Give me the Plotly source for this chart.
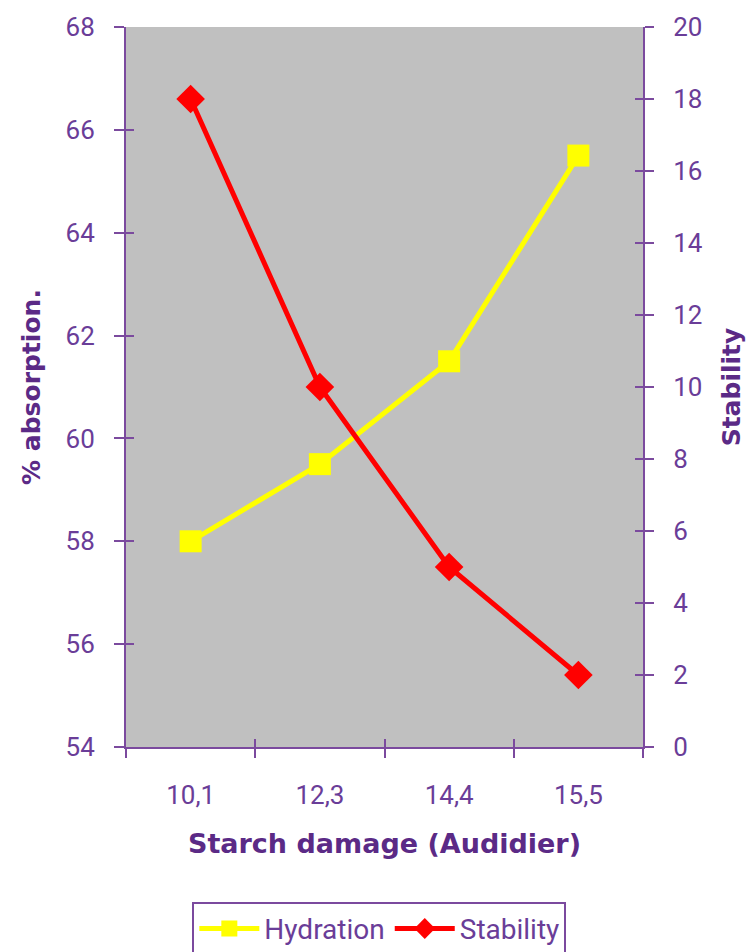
import plotly.graph_objects as go

# Starch damage levels (Audidier) and the measured responses
starch_damage = ["10,1", "12,3", "14,4", "15,5"]
hydration = [58.0, 59.5, 61.5, 65.5]      # % absorption
stability = [18.0, 10.0, 5.0, 2.0]        # stability

purple_axis = "#7b4a9e"
purple_text = "#6a3d98"
purple_title = "#5b2a86"

tick_font = dict(family="Roboto", size=26, color=purple_text)
ytitle_font = dict(family="DejaVu Sans", size=25, color=purple_title)
xtitle_font = dict(family="DejaVu Sans", size=27, color=purple_title)

fig = go.Figure()

fig.add_trace(go.Scatter(
    x=starch_damage, y=hydration, name="Hydration",
    mode="lines+markers",
    line=dict(color="#ffff00", width=5),
    marker=dict(symbol="square", size=22, color="#ffff00"),
    yaxis="y",
))

fig.add_trace(go.Scatter(
    x=starch_damage, y=stability, name="Stability",
    mode="lines+markers",
    line=dict(color="#ff0000", width=5),
    marker=dict(symbol="diamond", size=22, color="#ff0000"),
    yaxis="y2",
))

# empty traces so the overlay tick axes get drawn
for ax in ("y3", "y4"):
    fig.add_trace(go.Scatter(
        x=[None], y=[None], xaxis="x2", yaxis=ax,
        mode="markers", showlegend=False, hoverinfo="skip",
    ))

# bare overlay axes that draw the inner half of each crossing tick mark
inner_ticks = dict(
    ticks="inside", ticklen=8, tickwidth=2, tickcolor=purple_axis,
    showline=False, showgrid=False, zeroline=False, showticklabels=False,
    fixedrange=True,
)

fig.update_layout(
    width=749, height=952,
    margin=dict(l=126, r=106, t=27, b=205, autoexpand=False),
    paper_bgcolor="white",
    plot_bgcolor="#c0c0c0",
    font=dict(family="Roboto", color=purple_text, size=18),
    xaxis=dict(
        type="category",
        tickson="boundaries",
        ticks="outside", ticklen=9, tickwidth=2, tickcolor=purple_axis,
        showline=True, linecolor=purple_axis, linewidth=2,
        showgrid=False, zeroline=False,
        tickfont=tick_font,
        ticklabelstandoff=24,
        range=[-0.5, 3.5],
        title=dict(
            text="<b>Starch damage (Audidier)</b>",
            font=xtitle_font,
            standoff=25,
        ),
    ),
    xaxis2=dict(
        overlaying="x", anchor="y3", side="bottom",
        range=[-0.5, 3.5],
        tickvals=[-0.5, 0.5, 1.5, 2.5, 3.5],
        **inner_ticks,
    ),
    yaxis=dict(
        range=[54, 68], dtick=2,
        ticks="outside", ticklen=10, tickwidth=2, tickcolor=purple_axis,
        showline=True, linecolor=purple_axis, linewidth=2,
        showgrid=False, zeroline=False,
        tickfont=tick_font,
        ticklabelstandoff=14,
        title=dict(
            text="<b>% absorption.</b>",
            font=ytitle_font,
            standoff=18,
        ),
    ),
    yaxis2=dict(
        range=[0, 20], dtick=2,
        overlaying="y", side="right",
        ticks="outside", ticklen=9, tickwidth=2, tickcolor=purple_axis,
        showline=True, linecolor=purple_axis, linewidth=2,
        showgrid=False, zeroline=False,
        tickfont=tick_font,
        ticklabelstandoff=14,
        title=dict(
            text="<b>Stability</b>",
            font=ytitle_font,
            standoff=21,
        ),
    ),
    yaxis3=dict(
        overlaying="y", anchor="x2", side="left",
        range=[54, 68], dtick=2,
        **inner_ticks,
    ),
    yaxis4=dict(
        overlaying="y", anchor="x2", side="right",
        range=[0, 20], dtick=2,
        **inner_ticks,
    ),
    legend=dict(
        orientation="h",
        x=0.49, xanchor="center",
        y=-0.215, yanchor="top",
        bordercolor=purple_axis, borderwidth=2,
        bgcolor="white",
        font=dict(family="Roboto", size=28, color=purple_text),
        itemwidth=60,
    ),
    showlegend=True,
)

fig.write_html("out.html")
